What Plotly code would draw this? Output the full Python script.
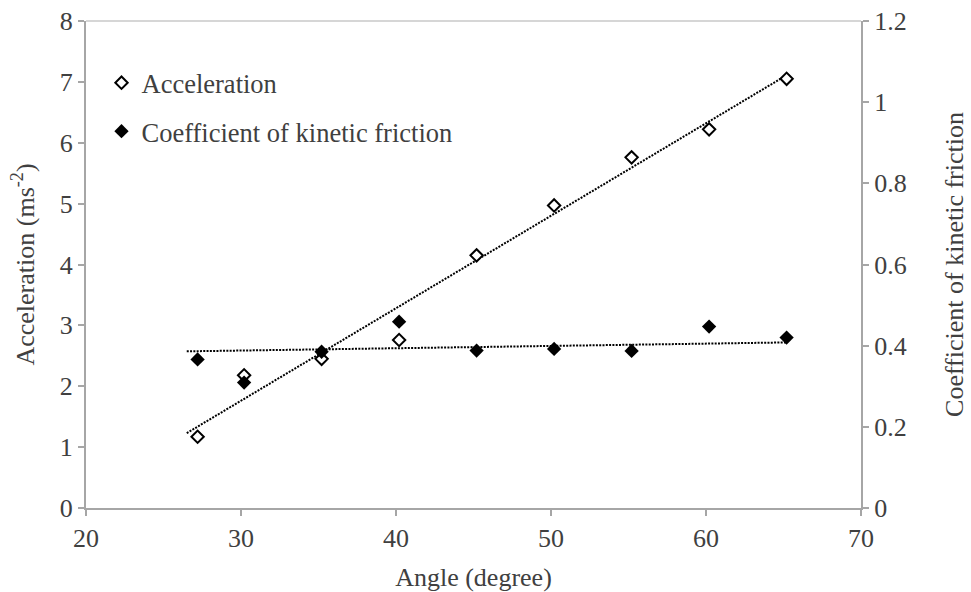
import plotly.graph_objects as go

angle = [27.2, 30.2, 35.2, 40.2, 45.2, 50.2, 55.2, 60.2, 65.2]
acceleration = [1.17, 2.18, 2.45, 2.76, 4.15, 4.97, 5.76, 6.22, 7.05]
friction = [0.366, 0.309, 0.385, 0.459, 0.388, 0.392, 0.387, 0.447, 0.420]
trend_angle = [26.5, 65.2]
trend_acceleration = [1.23, 7.11]
trend_friction = [0.386, 0.408]

left_ticks = [0, 1, 2, 3, 4, 5, 6, 7, 8]
right_ticks = [0, 0.2, 0.4, 0.6, 0.8, 1.0, 1.2]
right_labels = ["0", "0.2", "0.4", "0.6", "0.8", "1", "1.2"]
x_ticks = [20, 30, 40, 50, 60, 70]

FONT = "Liberation Serif, Times New Roman, serif"
TXT = "#404040"
AX = "#a6a6a6"
dotdash = "2px,1.3px"

fig = go.Figure()
fig.add_trace(go.Scatter(x=trend_angle, y=trend_acceleration, mode="lines",
                         line=dict(color="black", width=2, dash=dotdash),
                         showlegend=False, hoverinfo="skip"))
fig.add_trace(go.Scatter(x=angle, y=acceleration, mode="markers", name="Acceleration",
                         legendgroup="a",
                         marker=dict(symbol="diamond", size=9.5, color="white",
                                     line=dict(color="black", width=2))))
fig.add_trace(go.Scatter(x=trend_angle, y=trend_friction, mode="lines", yaxis="y2",
                         line=dict(color="black", width=2, dash=dotdash),
                         showlegend=False, hoverinfo="skip"))
fig.add_trace(go.Scatter(x=angle, y=friction, mode="markers", yaxis="y2",
                         name="Coefficient of kinetic friction", legendgroup="b",
                         marker=dict(symbol="diamond", size=11, color="black",
                                     line=dict(width=0))))

fig.update_layout(
    width=971, height=592,
    margin=dict(l=86, r=110, t=21, b=84),
    paper_bgcolor="white", plot_bgcolor="white",
    font=dict(family=FONT, size=26, color=TXT),
    xaxis=dict(range=[20, 70], tickvals=x_ticks, showgrid=False, zeroline=False,
               showline=True, linecolor=AX, linewidth=2, automargin=False,
               ticks="outside", ticklen=6, tickwidth=2, tickcolor=AX,
               title=dict(text="Angle (degree)", standoff=18,
                          font=dict(size=26, color=TXT)),
               tickfont=dict(size=26)),
    yaxis=dict(range=[0, 8], tickvals=left_ticks, showgrid=False, zeroline=False,
               showline=True, linecolor=AX, linewidth=2, automargin=False,
               ticks="outside", ticklen=6, tickwidth=2, tickcolor=AX,
               title=dict(text="Acceleration (ms<sup>-2</sup>)", standoff=18,
                          font=dict(size=26, color=TXT))),
    yaxis2=dict(range=[0, 1.2], tickvals=right_ticks, ticktext=right_labels,
                overlaying="y", side="right", showgrid=False, zeroline=False,
                showline=True, linecolor=AX, linewidth=2, automargin=False,
                ticks="outside", ticklen=6, tickwidth=2, tickcolor=AX,
                title=dict(text="Coefficient of kinetic friction", standoff=39,
                           font=dict(size=26, color=TXT))),
    legend=dict(x=0.02, y=0.922, xanchor="left", yanchor="top",
                bgcolor="rgba(0,0,0,0)", traceorder="grouped", tracegroupgap=11,
                font=dict(size=26.5, color=TXT)),
    shapes=[dict(type="line", xref="paper", yref="paper", x0=0, x1=1, y0=1, y1=1,
                 line=dict(color="#c8c8c8", width=1.5))],
)

fig.write_html("out.html")
